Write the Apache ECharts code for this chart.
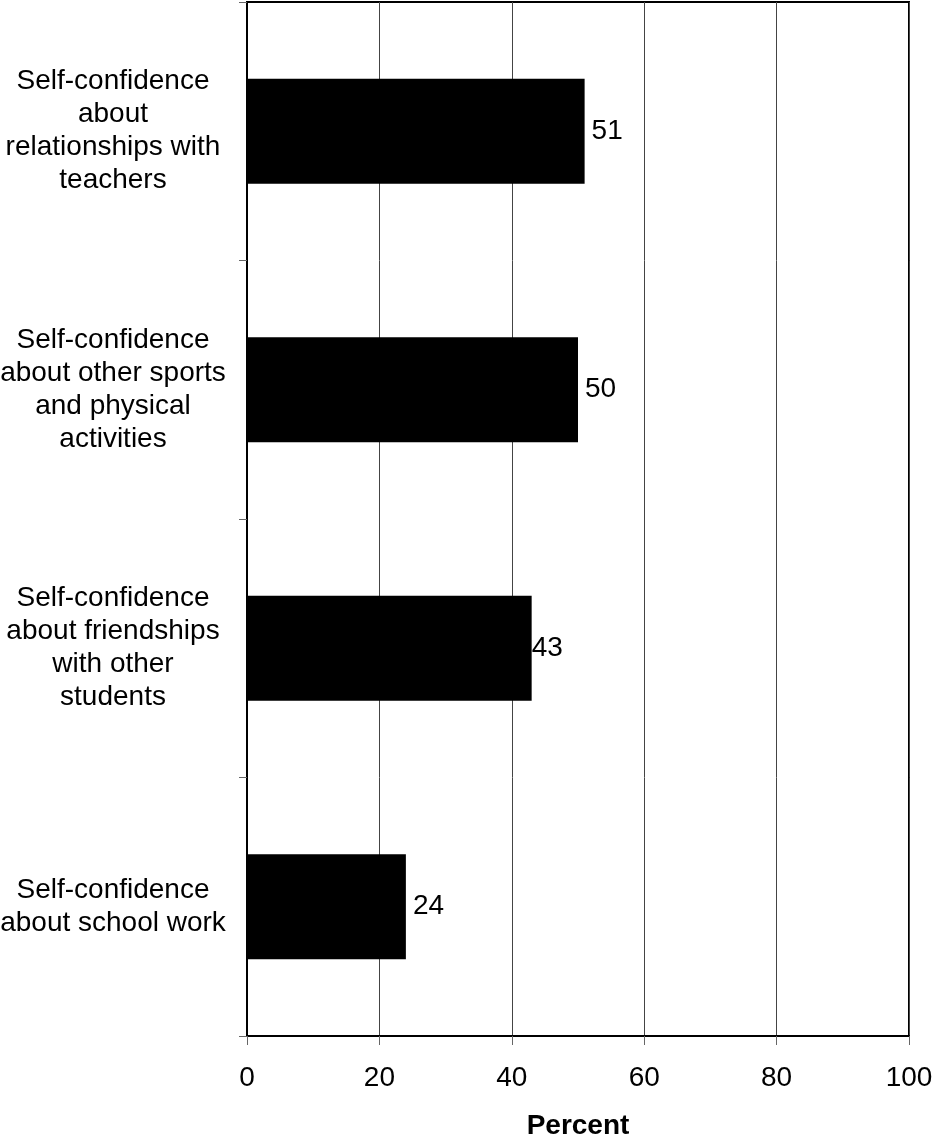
<!DOCTYPE html>
<html>
<head>
<meta charset="utf-8">
<script src="https://cdn.jsdelivr.net/npm/echarts@6/dist/echarts.min.js"></script>
<style>
html,body{margin:0;padding:0;background:#fff;}
#chart{width:933px;height:1138px;}
</style>
</head>
<body>
<div id="chart"></div>
<script>
var categories = [
  "Self-confidence\nabout\nrelationships with\nteachers",
  "Self-confidence\nabout other sports\nand physical\nactivities",
  "Self-confidence\nabout friendships\nwith other\nstudents",
  "Self-confidence\nabout school work"
];
var values = [51, 50, 43, 24];
var labelDistances = [7, 7, 0, 7];
var xTicks = [0, 20, 40, 60, 80, 100];

var FONT = "Liberation Sans, Arial, sans-serif";
var chart = echarts.init(document.getElementById('chart'));
chart.setOption({
  animation: false,
  backgroundColor: '#fff',
  grid: {
    left: 247, right: 24, top: 2, bottom: 102,
    containLabel: false, outerBoundsMode: 'none',
    show: true, borderColor: '#000', borderWidth: 2, backgroundColor: 'transparent'
  },
  xAxis: {
    type: 'value', min: xTicks[0], max: xTicks[xTicks.length - 1], interval: 20,
    name: 'Percent', nameLocation: 'middle', nameGap: 76,
    nameTextStyle: { fontFamily: FONT, fontSize: 28, fontWeight: 'bold', color: '#000' },
    axisLine: { show: true, lineStyle: { color: '#000', width: 2 } },
    axisTick: { show: true, length: 9, lineStyle: { color: '#666', width: 1 } },
    axisLabel: { fontFamily: FONT, fontSize: 28, color: '#000', margin: 28 },
    splitLine: { show: true, lineStyle: { color: '#444', width: 1 } }
  },
  yAxis: {
    type: 'category', data: categories, inverse: true,
    axisLine: { show: true, lineStyle: { color: '#000', width: 2 } },
    axisTick: { show: true, length: 8, alignWithLabel: false, lineStyle: { color: '#666', width: 1 } },
    axisLabel: {
      fontFamily: FONT, fontSize: 28, color: '#000', align: 'center',
      margin: 134, lineHeight: 33
    },
    splitLine: { show: false }
  },
  series: [{
    type: 'bar',
    data: values.map(function (v, i) {
      return { value: v, label: { distance: labelDistances[i] } };
    }),
    barWidth: 105,
    itemStyle: { color: '#000' },
    label: {
      show: true, position: 'right', distance: 7,
      fontFamily: FONT, fontSize: 28, color: '#000'
    }
  }]
});
</script>
</body>
</html>
